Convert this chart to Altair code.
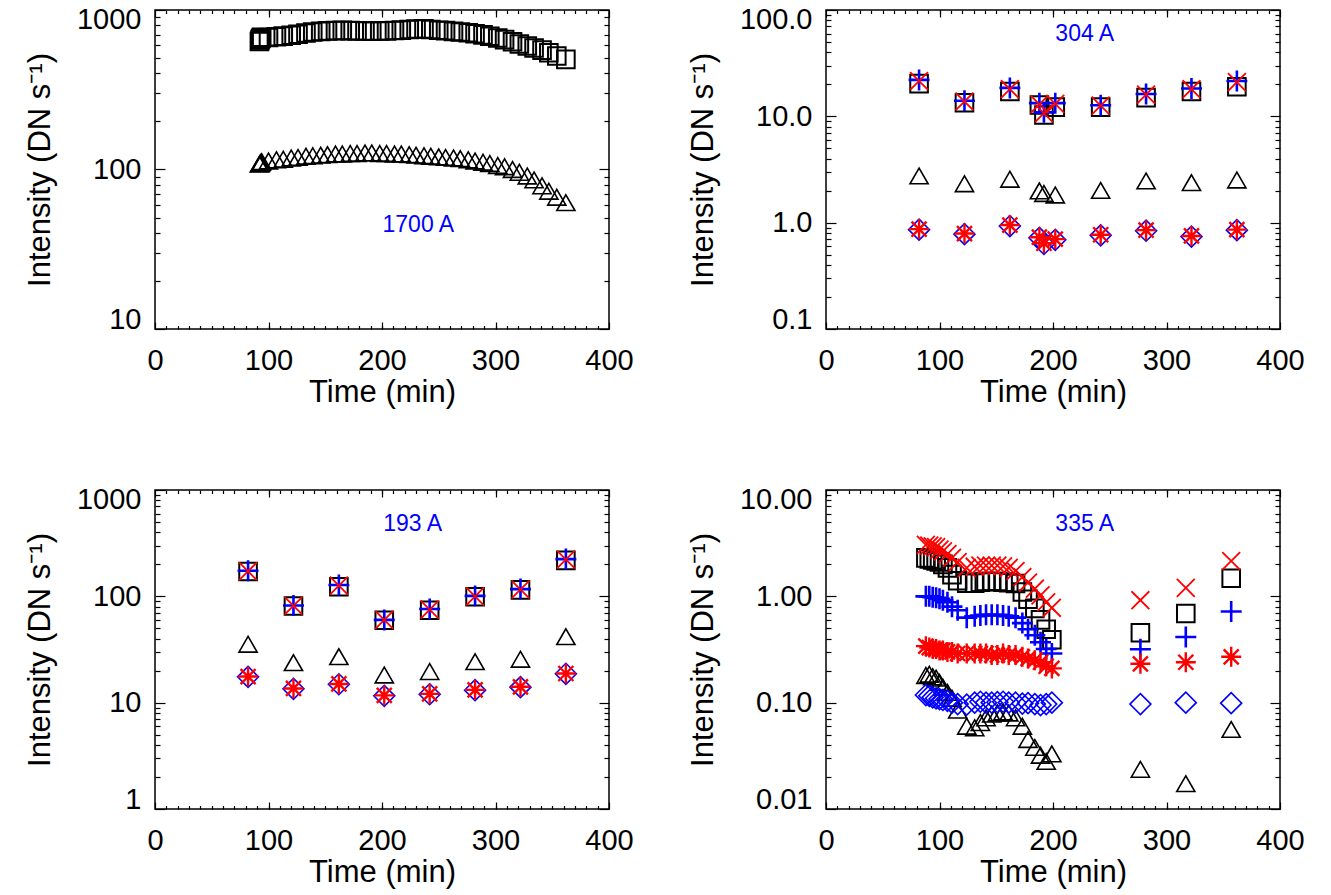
import altair as alt
import pandas as pd

FONT = "Liberation Sans"
BLUE = "#0000ff"
RED = "#ff0000"

# ---------------- data ----------------
# Panel 1: 1700 A
P1_T = [92, 92.5, 93, 93.5, 94,
        100, 107, 113, 120, 126, 133, 139, 146, 152, 159,
        165, 172, 178, 185, 191, 198, 204, 211, 217, 224,
        230, 237, 243, 250, 256, 263, 269, 276, 282, 289,
        295, 302, 308, 315, 321, 328, 334, 341, 347, 354, 362]
P1_SQUARE = [635, 648, 660, 668, 675,
             672, 680, 686, 695, 705, 718, 728, 735, 740, 743,
             745, 742, 740, 738, 737, 738, 740, 744, 748, 754,
             760, 762, 754, 747, 742, 735, 728, 720, 710, 698,
             684, 668, 652, 632, 612, 595, 578, 560, 540, 515, 490]
P1_TRIANGLE = [108, 109, 110, 111, 112,
               113, 115, 116, 118, 119, 121, 122, 123, 124, 125,
               125, 126, 126, 127, 127, 126, 126, 125, 125, 124,
               123, 122, 121, 120, 119, 118, 117, 115, 113, 111,
               109, 106, 104, 100, 96, 91, 86, 79, 73, 67, 62]

# Panel 2: 304 A
P2_T = [82, 122, 162, 188, 192, 202, 242, 282, 322, 362]
P2_SQUARE = [20.3, 13.4, 17.1, 12.8, 10.3, 12.2, 12.2, 15.0, 17.1, 19.0]
P2_PLUS = [22.0, 14.0, 18.5, 13.3, 10.9, 13.3, 12.7, 16.2, 18.3, 21.5]
P2_X = [21.5, 13.8, 18.0, 13.0, 10.7, 13.1, 12.6, 16.0, 18.0, 21.0]
P2_TRIANGLE = [2.75, 2.32, 2.56, 1.99, 1.88, 1.82, 2.01, 2.47, 2.38, 2.52]
P2_DIAMOND = [0.86, 0.78, 0.93, 0.72, 0.63, 0.69, 0.76, 0.84, 0.74, 0.85]
P2_ASTERISK = [0.87, 0.79, 0.95, 0.73, 0.64, 0.70, 0.77, 0.85, 0.75, 0.86]

# Panel 3: 193 A
P3_T = [82, 122, 162, 202, 242, 282, 322, 362]
P3_SQUARE = [171, 81, 123, 59.5, 74, 99, 115, 218]
P3_PLUS = [174, 82, 128, 60, 76, 101, 117, 224]
P3_X = [172, 81.5, 126, 60, 75, 100, 116, 222]
P3_TRIANGLE = [35.4, 23.8, 27.1, 18.2, 19.6, 24.3, 25.6, 41.8]
P3_DIAMOND = [17.5, 13.5, 14.9, 11.6, 12.0, 13.1, 14.0, 18.7]
P3_ASTERISK = [17.6, 13.6, 15.0, 11.7, 12.1, 13.2, 14.1, 18.8]

# Panel 4: 335 A
P4_T = [88, 91, 94, 97, 100, 103, 107, 111, 116, 124, 131, 136, 141, 146, 151, 156,
        161, 167, 173, 178, 184, 189, 194, 199, 277, 317, 357]
P4_X = [3.05, 3.0, 2.95, 2.9, 2.75, 2.65, 2.5, 2.3, 2.1, 1.85, 1.9, 1.95, 1.95, 1.95,
        1.95, 1.92, 1.85, 1.73, 1.52, 1.35, 1.18, 1.02, 0.88, 0.78, 0.92, 1.2, 2.15]
P4_SQUARE = [2.3, 2.25, 2.2, 2.15, 2.1, 2.0, 1.85, 1.6, 1.4, 1.33, 1.33, 1.36, 1.38, 1.38,
             1.38, 1.36, 1.34, 1.32, 1.1, 0.94, 0.77, 0.6, 0.49, 0.39, 0.455, 0.69, 1.48]
P4_PLUS = [1.0, 1.0, 0.98, 0.97, 0.95, 0.92, 0.88, 0.8, 0.74, 0.63, 0.65, 0.66, 0.67, 0.67,
           0.67, 0.66, 0.65, 0.63, 0.56, 0.49, 0.43, 0.37, 0.32, 0.29, 0.318, 0.415, 0.72]
P4_ASTERISK = [0.34, 0.33, 0.32, 0.32, 0.31, 0.31, 0.3, 0.3, 0.29, 0.29, 0.29, 0.29, 0.29,
               0.28, 0.28, 0.29, 0.28, 0.28, 0.27, 0.26, 0.25, 0.24, 0.22, 0.21, 0.232, 0.24, 0.27]
P4_DIAMOND = [0.118, 0.116, 0.112, 0.11, 0.108, 0.106, 0.104, 0.1, 0.097, 0.096, 0.1, 0.102,
              0.1, 0.1, 0.101, 0.102, 0.1, 0.1, 0.098, 0.099, 0.097, 0.095, 0.097, 0.1,
              0.097, 0.1, 0.099]
P4_TRIANGLE = [0.18, 0.185, 0.175, 0.17, 0.155, 0.14, 0.125, 0.11, 0.085, 0.06, 0.058, 0.065,
               0.072, 0.078, 0.08, 0.082, 0.08, 0.072, 0.06, 0.045, 0.038, 0.032, 0.028, 0.033,
               0.0236, 0.0173, 0.056]

# Panel annotations (text, time, intensity)
P1_LABEL = ("1700 A", 232, 44.7)
P2_LABEL = ("304 A", 228, 60)
P3_LABEL = ("193 A", 227, 484)
P4_LABEL = ("335 A", 228, 4.84)

# Axes
X_DOMAIN = [0, 400]
X_MAJOR = [0, 100, 200, 300, 400]
X_MINOR = list(range(10, 400, 10))
P1_YDOMAIN, P1_YFMT = [10, 1000], "d"
P2_YDOMAIN, P2_YFMT = [0.1, 100], ".1f"
P3_YDOMAIN, P3_YFMT = [1, 1000], "d"
P4_YDOMAIN, P4_YFMT = [0.01, 10], ".2f"

# ---------------- styles ----------------
PLUS_PATH = "M-1,0L1,0M0,-1L0,1"
X_PATH = "M-1,-1L1,1M-1,1L1,-1"
AST_PATH = "M-1,0L1,0M0,-1L0,1M-0.75,-0.75L0.75,0.75M-0.75,0.75L0.75,-0.75"

STYLE = {
    "square": dict(shape="square", color="black", size=310, strokeWidth=2),
    "triangle": dict(shape="triangle-up", color="black", size=330, strokeWidth=1.6),
    "diamond": dict(shape="diamond", color=BLUE, size=440, strokeWidth=1.6),
    "plus": dict(shape=PLUS_PATH, color=BLUE, size=440, strokeWidth=2.6),
    "x": dict(shape=X_PATH, color=RED, size=320, strokeWidth=1.8),
    "asterisk": dict(shape=AST_PATH, color=RED, size=400, strokeWidth=2.4),
}

XL, XM = 7, 3.5
YL, YM = 10, 5
LABEL_SIZE = 29
TITLE_SIZE = 31
W, H = 454, 319


def decade_minor(lo, hi):
    out = []
    d = lo
    while d < hi * 0.999:
        out += [m * d for m in range(2, 10)]
        d *= 10
    return out


def make_panel(series, ydom, yfmt, label):
    xs = alt.Scale(domain=X_DOMAIN, nice=False, zero=False)
    ys = alt.Scale(type="log", domain=ydom, nice=False)
    dom = pd.DataFrame({"t": X_DOMAIN, "v": ydom})
    ymaj = []
    d = ydom[0]
    while d <= ydom[1] * 1.001:
        ymaj.append(d)
        d *= 10
    ymin = decade_minor(ydom[0], ydom[1])
    common = dict(domain=False, grid=False, tickColor="black", tickWidth=1.2)

    def mk(xa=None, ya=None):
        return alt.Chart(dom).mark_point(opacity=0).encode(
            x=alt.X("t:Q", scale=xs, axis=xa),
            y=alt.Y("v:Q", scale=ys, axis=ya),
        )

    layers = [
        mk(xa=alt.Axis(orient="bottom", values=X_MAJOR, tickSize=XL, offset=-XL,
                       labelFont=FONT, labelFontSize=LABEL_SIZE, labelColor="black",
                       labelPadding=17, labelFlush=False, labelOverlap=False,
                       title="Time (min)", titleFont=FONT, titleFontSize=TITLE_SIZE,
                       titleFontWeight="normal", titleColor="black", titlePadding=2,
                       **common)),
        mk(xa=alt.Axis(orient="bottom", values=X_MINOR, tickSize=XM, offset=-XM,
                       labels=False, title="", **common)),
        mk(xa=alt.Axis(orient="top", values=X_MAJOR, tickSize=XL, offset=-XL,
                       labels=False, title="", **common)),
        mk(xa=alt.Axis(orient="top", values=X_MINOR, tickSize=XM, offset=-XM,
                       labels=False, title="", **common)),
        mk(ya=alt.Axis(orient="left", values=ymaj, format=yfmt, tickSize=YL, offset=-YL,
                       labelFont=FONT, labelFontSize=LABEL_SIZE, labelColor="black",
                       labelPadding=14, labelFlush=True, labelFlushOffset=5,
                       labelOverlap=False,
                       title="Intensity (DN s\u207b\u00b9)", titleFont=FONT,
                       titleFontSize=TITLE_SIZE, titleFontWeight="normal",
                       titleColor="black", titlePadding=20, **common)),
        mk(ya=alt.Axis(orient="left", values=ymin, tickSize=YM, offset=-YM,
                       labels=False, title="", **common)),
        mk(ya=alt.Axis(orient="right", values=ymaj, tickSize=YL, offset=-YL,
                       labels=False, title="", **common)),
        mk(ya=alt.Axis(orient="right", values=ymin, tickSize=YM, offset=-YM,
                       labels=False, title="", **common)),
    ]
    for kind, t, v in series:
        df = pd.DataFrame({"t": t, "v": v})
        layers.append(
            alt.Chart(df).mark_point(filled=False, opacity=1, **STYLE[kind]).encode(
                x=alt.X("t:Q", scale=xs, axis=None),
                y=alt.Y("v:Q", scale=ys, axis=None),
            )
        )
    txt, lt, lv = label
    ldf = pd.DataFrame({"t": [lt], "v": [lv], "s": [txt]})
    layers.append(
        alt.Chart(ldf).mark_text(font=FONT, fontSize=23, color=BLUE, align="center",
                                 baseline="middle").encode(
            x=alt.X("t:Q", scale=xs, axis=None),
            y=alt.Y("v:Q", scale=ys, axis=None),
            text="s:N",
        )
    )
    return alt.layer(*layers).resolve_axis(x="independent", y="independent").properties(
        width=W, height=H)


p1 = make_panel([("square", P1_T, P1_SQUARE), ("triangle", P1_T, P1_TRIANGLE)],
                P1_YDOMAIN, P1_YFMT, P1_LABEL)
p2 = make_panel([("square", P2_T, P2_SQUARE), ("triangle", P2_T, P2_TRIANGLE),
                 ("diamond", P2_T, P2_DIAMOND), ("plus", P2_T, P2_PLUS),
                 ("x", P2_T, P2_X), ("asterisk", P2_T, P2_ASTERISK)],
                P2_YDOMAIN, P2_YFMT, P2_LABEL)
p3 = make_panel([("square", P3_T, P3_SQUARE), ("triangle", P3_T, P3_TRIANGLE),
                 ("diamond", P3_T, P3_DIAMOND), ("plus", P3_T, P3_PLUS),
                 ("x", P3_T, P3_X), ("asterisk", P3_T, P3_ASTERISK)],
                P3_YDOMAIN, P3_YFMT, P3_LABEL)
p4 = make_panel([("square", P4_T, P4_SQUARE), ("triangle", P4_T, P4_TRIANGLE),
                 ("diamond", P4_T, P4_DIAMOND), ("plus", P4_T, P4_PLUS),
                 ("x", P4_T, P4_X), ("asterisk", P4_T, P4_ASTERISK)],
                P4_YDOMAIN, P4_YFMT, P4_LABEL)

chart = alt.concat(p1, p2, p3, p4, columns=2, spacing={"row": 161, "column": 217},
                   bounds="flush").properties(
    padding={"left": 23, "top": 4, "right": 5, "bottom": 5},
    background="white",
).configure_view(stroke="black", strokeWidth=1.5)

chart.save("out.html", embed_options={"renderer": "svg", "actions": False})
